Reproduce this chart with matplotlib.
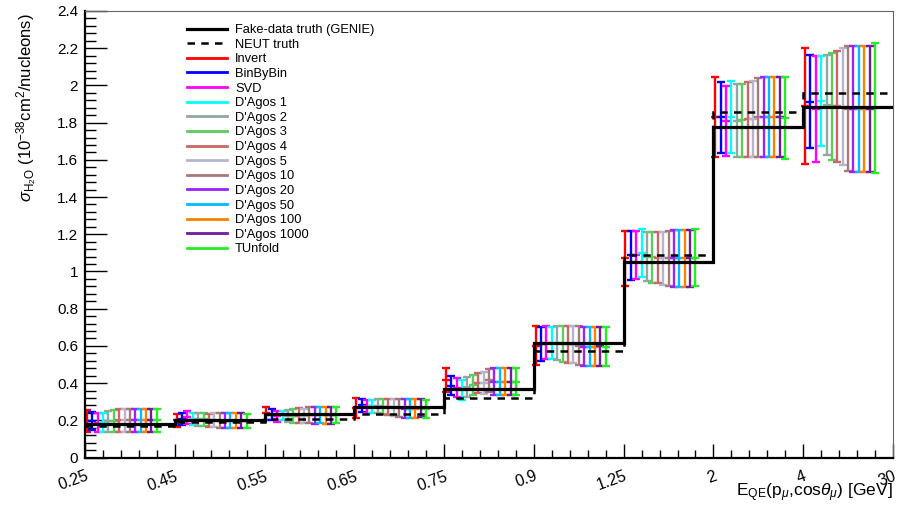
import matplotlib
matplotlib.use("Agg")
import matplotlib.pyplot as plt
from matplotlib.lines import Line2D
import numpy as np

plt.rcParams['font.family'] = ['Liberation Sans', 'DejaVu Sans']
plt.rcParams['mathtext.fontset'] = 'custom'
plt.rcParams['mathtext.rm'] = 'Liberation Sans'
plt.rcParams['mathtext.it'] = 'Liberation Sans:italic'

# bin edges (GeV), drawn as equal-width bins
edges = ["0.25", "0.45", "0.55", "0.65", "0.75", "0.9", "1.25", "2", "4", "30"]

# truth histograms
genie_truth = [0.178, 0.202, 0.232, 0.271, 0.368, 0.614, 1.053, 1.775, 1.886]
neut_truth = [0.171, 0.189, 0.205, 0.236, 0.318, 0.574, 1.090, 1.857, 1.958]

methods = ["Invert", "BinByBin", "SVD", "D'Agos 1", "D'Agos 2", "D'Agos 3",
           "D'Agos 4", "D'Agos 5", "D'Agos 10", "D'Agos 20", "D'Agos 50",
           "D'Agos 100", "D'Agos 1000", "TUnfold"]
colors = ["#ff0000", "#0000ff", "#ff00ff", "#00ffff", "#8fa8a0", "#5ccd5c",
          "#cc6666", "#b4b4cc", "#a87878", "#9922ff", "#00bbff", "#ff7f00",
          "#6f1a9f", "#22ee22"]

# unfolded central values per method (one per bin)
invert_val = [0.197, 0.200, 0.237, 0.265, 0.415, 0.600, 1.070, 1.830, 1.890]
binbybin_val = [0.197, 0.206, 0.230, 0.280, 0.387, 0.610, 1.087, 1.828, 1.913]
svd_val = [0.188, 0.216, 0.222, 0.275, 0.375, 0.617, 1.090, 1.808, 1.873]
dagos1_val = [0.190, 0.207, 0.226, 0.275, 0.363, 0.614, 1.098, 1.830, 1.917]
dagos2_val = [0.195, 0.205, 0.224, 0.275, 0.380, 0.616, 1.080, 1.810, 1.895]
dagos3_val = [0.197, 0.205, 0.223, 0.274, 0.390, 0.611, 1.077, 1.813, 1.888]
dagos4_val = [0.199, 0.200, 0.224, 0.272, 0.400, 0.608, 1.075, 1.817, 1.888]
dagos5_val = [0.199, 0.200, 0.225, 0.269, 0.400, 0.606, 1.070, 1.820, 1.886]
dagos10_val = [0.199, 0.197, 0.227, 0.265, 0.414, 0.602, 1.070, 1.828, 1.875]
dagos20_val = [0.199, 0.197, 0.227, 0.262, 0.408, 0.595, 1.070, 1.830, 1.872]
dagos50_val = [0.199, 0.197, 0.228, 0.262, 0.408, 0.595, 1.070, 1.830, 1.872]
dagos100_val = [0.199, 0.197, 0.227, 0.262, 0.408, 0.595, 1.070, 1.830, 1.872]
dagos1000_val = [0.199, 0.197, 0.228, 0.265, 0.408, 0.597, 1.070, 1.830, 1.872]
tunfold_val = [0.199, 0.195, 0.228, 0.260, 0.408, 0.595, 1.075, 1.825, 1.879]

# errors per method
invert_err = [0.058, 0.036, 0.036, 0.054, 0.065, 0.105, 0.150, 0.215, 0.310]
binbybin_err = [0.049, 0.031, 0.030, 0.033, 0.051, 0.090, 0.133, 0.190, 0.250]
svd_err = [0.049, 0.036, 0.030, 0.034, 0.052, 0.090, 0.130, 0.190, 0.283]
dagos1_err = [0.051, 0.033, 0.026, 0.034, 0.054, 0.086, 0.130, 0.195, 0.243]
dagos2_err = [0.056, 0.036, 0.031, 0.038, 0.054, 0.092, 0.133, 0.195, 0.270]
dagos3_err = [0.058, 0.036, 0.036, 0.040, 0.054, 0.096, 0.137, 0.197, 0.288]
dagos4_err = [0.060, 0.036, 0.040, 0.043, 0.055, 0.098, 0.139, 0.200, 0.297]
dagos5_err = [0.060, 0.037, 0.038, 0.046, 0.060, 0.100, 0.143, 0.204, 0.313]
dagos10_err = [0.060, 0.040, 0.043, 0.049, 0.060, 0.105, 0.149, 0.211, 0.335]
dagos20_err = [0.060, 0.040, 0.047, 0.052, 0.072, 0.105, 0.152, 0.215, 0.340]
dagos50_err = [0.060, 0.040, 0.045, 0.052, 0.072, 0.105, 0.152, 0.215, 0.340]
dagos100_err = [0.060, 0.040, 0.047, 0.052, 0.072, 0.105, 0.152, 0.215, 0.340]
dagos1000_err = [0.060, 0.040, 0.046, 0.049, 0.072, 0.103, 0.152, 0.215, 0.340]
tunfold_err = [0.060, 0.038, 0.045, 0.050, 0.072, 0.105, 0.152, 0.222, 0.348]

values = [invert_val, binbybin_val, svd_val, dagos1_val, dagos2_val, dagos3_val,
          dagos4_val, dagos5_val, dagos10_val, dagos20_val, dagos50_val,
          dagos100_val, dagos1000_val, tunfold_val]
errors = [invert_err, binbybin_err, svd_err, dagos1_err, dagos2_err, dagos3_err,
          dagos4_err, dagos5_err, dagos10_err, dagos20_err, dagos50_err,
          dagos100_err, dagos1000_err, tunfold_err]

fig = plt.figure(figsize=(8.97, 5.05), dpi=100)
ax = fig.add_axes([85 / 897, 47.5 / 505, 808 / 897, 446.5 / 505])

nbins = len(genie_truth)
bin_x = np.arange(nbins)

# error bars, shifted inside each bin
for k, (name, col) in enumerate(zip(methods, colors)):
    xs = bin_x + 0.02 + 0.06 * k
    ax.errorbar(xs, values[k], yerr=errors[k], fmt='_', color=col, ecolor=col,
                elinewidth=1.7, capsize=2.6, capthick=1.7, markersize=6,
                markeredgewidth=1.7, zorder=2)

ax.stairs(genie_truth, np.arange(nbins + 1), color='black', linewidth=2.3,
          baseline=None, zorder=4)
ax.stairs(neut_truth, np.arange(nbins + 1), color='black', linewidth=1.8,
          linestyle=(0, (3, 2.5)), baseline=None, zorder=3)

ax.set_xlim(0, nbins)
ax.set_ylim(0, 2.4)

ax.set_xticks(np.arange(nbins + 1))
ax.set_xticklabels(edges, rotation=20, ha='right', rotation_mode='anchor')
ax.set_xticks(np.arange(0, nbins, 0.2), minor=True)
ax.set_yticks(np.arange(0, 2.41, 0.2))
ax.set_yticklabels(["%g" % round(v, 1) for v in np.arange(0, 2.41, 0.2)])
ax.set_yticks(np.arange(0, 2.41, 0.04), minor=True)

ax.tick_params(axis='x', which='major', direction='in', length=10, width=1,
               labelsize=11.5, pad=8, top=False)
ax.tick_params(axis='x', which='minor', direction='in', length=5.5, width=1, top=False)
ax.tick_params(axis='y', which='major', direction='in', length=15.5, width=1,
               labelsize=11, pad=5, right=False)
ax.tick_params(axis='y', which='minor', direction='in', length=8, width=1, right=False)

for s in ['left', 'bottom']:
    ax.spines[s].set_linewidth(1.6)
for s in ['top', 'right']:
    ax.spines[s].set_linewidth(0.8)
    ax.spines[s].set_color('#666666')

fig.text(893 / 897, 1 - 493 / 505, r'E$_{\mathrm{QE}}$(p$_{\mu}$,cos$\theta_{\mu}$) [GeV]',
         ha='right', va='center', fontsize=12.5)
fig.text(27 / 897, 1 - 13 / 505,
         r'$\sigma_{\mathrm{H_{2}O}}$ (10$^{-38}$cm$^{2}$/nucleons)',
         rotation=90, ha='center', va='top', fontsize=12)

handles = [Line2D([], [], color='black', lw=2.3),
           Line2D([], [], color='black', lw=1.8, linestyle=(0, (3, 2.5)))]
handles += [Line2D([], [], color=c, lw=2) for c in colors]
labels = ["Fake-data truth (GENIE)", "NEUT truth"] + methods
fig.legend(handles, labels, loc='upper left',
           bbox_to_anchor=(187 / 897, 1 - 24 / 505), frameon=False,
           fontsize=9.3, handlelength=3.1, handletextpad=0.62,
           labelspacing=0.2, borderpad=0, borderaxespad=0)

fig.savefig("out.png", dpi=100)
